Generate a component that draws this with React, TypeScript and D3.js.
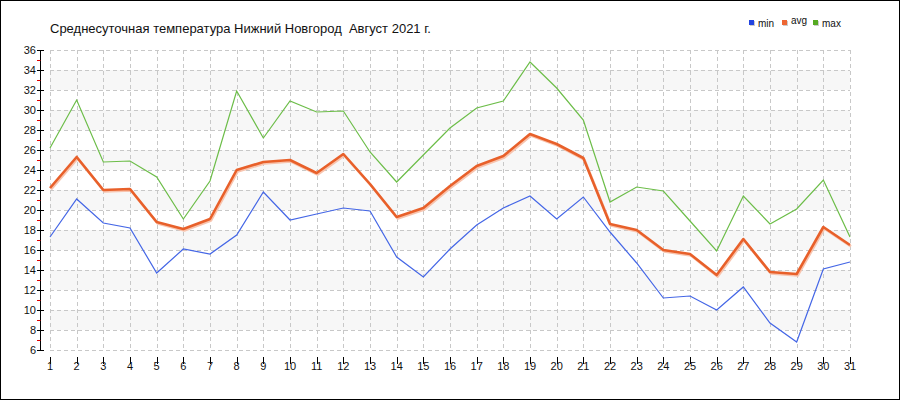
import React, { useEffect, useRef } from "react";
import * as d3 from "d3";

const days = d3.range(1, 32);
const minT = [17.3, 21.1, 18.7, 18.2, 13.7, 16.1, 15.6, 17.5, 21.8, 19.0, 19.6, 20.2, 19.9, 15.3, 13.3, 16.1, 18.5, 20.2, 21.4, 19.1, 21.3, 17.8, 14.7, 11.2, 11.4, 10.0, 12.3, 8.7, 6.8, 14.1, 14.8];
const avgT = [22.2, 25.3, 22.0, 22.1, 18.8, 18.1, 19.1, 24.0, 24.8, 25.0, 23.7, 25.6, 22.6, 19.3, 20.2, 22.4, 24.4, 25.4, 27.6, 26.6, 25.2, 18.6, 18.0, 16.0, 15.6, 13.5, 17.1, 13.8, 13.6, 18.3, 16.5];
const maxT = [26.2, 31.0, 24.8, 24.9, 23.3, 19.1, 22.9, 31.9, 27.2, 30.9, 29.8, 29.9, 25.8, 22.8, 25.5, 28.2, 30.2, 30.9, 34.8, 32.2, 29.0, 20.8, 22.3, 21.9, 18.9, 15.9, 21.4, 18.6, 20.1, 23.0, 17.3];
const yTicks = d3.range(6, 37, 2);
const title = "Среднесуточная температура Нижний Новгород  Август 2021 г.";
const legendNames = ["min", "avg", "max"];

export default function App() {
  const ref = useRef<SVGSVGElement>(null);
  useEffect(() => {
    const svg = d3.select(ref.current);
    svg.selectAll("*").remove();
    const W = 900, H = 400;
    const x = d3.scaleLinear().domain([1, 31]).range([50, 850]);
    const y = d3.scaleLinear().domain([6, 36]).range([350, 50]);
    const font = "'Liberation Sans', Arial, sans-serif";

    svg.append("rect").attr("x", 0).attr("y", 0).attr("width", W).attr("height", H).attr("fill", "#fff");

    // bands
    const bands = d3.range(8, 36, 4);
    svg.append("g").selectAll("rect").data(bands).join("rect")
      .attr("x", x(1)).attr("width", x(31) - x(1))
      .attr("y", (d) => y(d + 2)).attr("height", (d) => y(d) - y(d + 2))
      .attr("fill", "#f7f7f7");

    // grid
    const grid = svg.append("g").attr("stroke", "#c8c8c8").attr("stroke-dasharray", "4,3").attr("stroke-width", 1);
    grid.selectAll("line.h").data(yTicks).join("line").attr("class", "h")
      .attr("x1", x(1)).attr("x2", x(31))
      .attr("y1", (d) => Math.round(y(d)) + 0.5).attr("y2", (d) => Math.round(y(d)) + 0.5);
    grid.selectAll("line.v").data(days).join("line").attr("class", "v")
      .attr("y1", y(36)).attr("y2", y(6))
      .attr("x1", (d) => Math.round(x(d)) + 0.5).attr("x2", (d) => Math.round(x(d)) + 0.5);

    // y axis
    const ax = svg.append("g");
    ax.append("line").attr("x1", 40.5).attr("x2", 40.5).attr("y1", y(36)).attr("y2", y(6) + 0.5).attr("stroke", "#000");
    ax.selectAll("line.minor").data(d3.range(7, 36, 2)).join("line").attr("class", "minor")
      .attr("x1", 37).attr("x2", 40.5)
      .attr("y1", (d) => Math.round(y(d)) + 0.5).attr("y2", (d) => Math.round(y(d)) + 0.5)
      .attr("stroke", "#e00000");
    ax.selectAll("line.major").data(yTicks).join("line").attr("class", "major")
      .attr("x1", 37).attr("x2", 44)
      .attr("y1", (d) => Math.round(y(d)) + 0.5).attr("y2", (d) => Math.round(y(d)) + 0.5)
      .attr("stroke", "#000");
    ax.selectAll("text").data(yTicks).join("text")
      .attr("x", 36).attr("y", (d) => y(d) + 4)
      .attr("text-anchor", "end").attr("font-family", font).attr("font-size", 11).attr("fill", "#111")
      .text((d) => d);

    // x axis
    const xa = svg.append("g");
    xa.append("line").attr("x1", x(1)).attr("x2", x(31) + 0.5).attr("y1", 360.5).attr("y2", 360.5).attr("stroke", "#000");
    xa.selectAll("line").data(days).join("line")
      .attr("x1", (d) => Math.round(x(d)) + 0.5).attr("x2", (d) => Math.round(x(d)) + 0.5)
      .attr("y1", 357).attr("y2", 364).attr("stroke", "#000");
    xa.selectAll("text").data(days).join("text")
      .attr("x", (d) => x(d)).attr("y", 370)
      .attr("text-anchor", "middle").attr("font-family", font).attr("font-size", 11).attr("fill", "#111")
      .text((d) => d);

    const line = (vals: number[]) =>
      d3.line<number>().x((_, i) => x(days[i])).y((v) => y(v))(vals) as string;

    svg.append("path").attr("d", line(minT)).attr("fill", "none").attr("stroke", "#4466e6").attr("stroke-width", 1.2);
    svg.append("path").attr("d", line(maxT)).attr("fill", "none").attr("stroke", "#6cbd48").attr("stroke-width", 1.2);
    svg.append("path").attr("d", line(avgT)).attr("fill", "none").attr("stroke", "#f8c4ae").attr("stroke-width", 2.6)
      .attr("transform", "translate(1,1.5)").attr("stroke-linejoin", "round");
    svg.append("path").attr("d", line(avgT)).attr("fill", "none").attr("stroke", "#e8602a").attr("stroke-width", 2.6)
      .attr("stroke-linejoin", "round");

    // title
    svg.append("text").attr("x", 50).attr("y", 33).attr("font-family", font).attr("font-size", 13)
      .attr("fill", "#111").style("white-space", "pre").attr("xml:space", "preserve").text(title);

    // legend
    const legColors = ["#2244e0", "#ee6633", "#55aa22"];
    const legX = [749, 782, 813];
    const legTY = [27, 24, 27];
    const lg = svg.append("g");
    legendNames.forEach((n, i) => {
      lg.append("rect").attr("x", legX[i] + 1).attr("y", 21).attr("width", 5).attr("height", 5).attr("fill", "#ccc");
      lg.append("rect").attr("x", legX[i]).attr("y", 20).attr("width", 5).attr("height", 5).attr("fill", legColors[i]);
      lg.append("text").attr("x", legX[i] + 9).attr("y", legTY[i]).attr("font-family", font).attr("font-size", 10).attr("fill", "#111").text(n);
    });

    svg.append("rect").attr("x", 0.5).attr("y", 0.5).attr("width", W - 1).attr("height", H - 1).attr("fill", "none").attr("stroke", "#000");
  }, []);
  return <svg ref={ref} width={900} height={400} style={{ position: "absolute", left: 0, top: 0 }} />;
}
